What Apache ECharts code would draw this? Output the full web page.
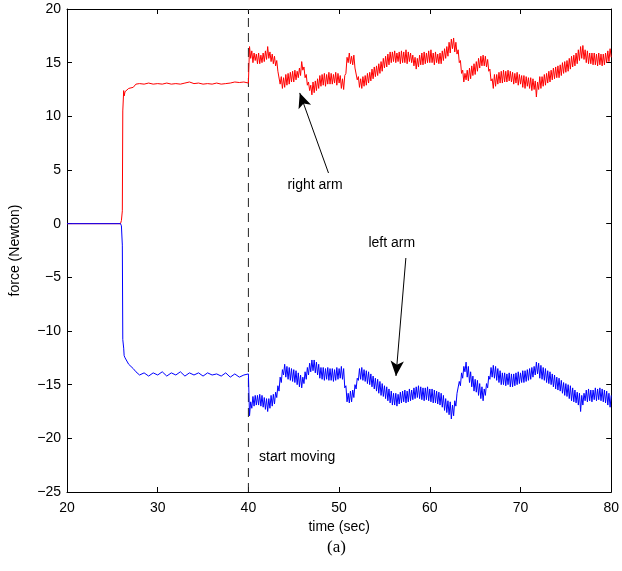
<!DOCTYPE html>
<html>
<head>
<meta charset="utf-8">
<script src="https://cdn.jsdelivr.net/npm/echarts@6/dist/echarts.min.js"></script>
<style>
  html, body { margin: 0; padding: 0; background: #ffffff; }
  #chart { width: 622px; height: 571px; }
</style>
</head>
<body>
<div id="chart"></div>
<script>
// Axis ticks
const xTicks = [20, 30, 40, 50, 60, 70, 80];
const yTicks = [-25, -20, -15, -10, -5, 0, 5, 10, 15, 20];

// Holding phase (before the arms start moving), sampled at irregular times
const preTime = [20, 25.9, 26.0, 26.1, 26.15, 26.25, 26.3, 26.4, 26.8, 27.3, 27.6,
  28.0, 28.5, 29.0, 29.5, 30.0, 30.5, 31.0, 31.5, 32.0, 32.5, 33.0, 33.5, 34.0, 34.5,
  35.0, 35.5, 36.0, 36.5, 37.0, 37.5, 38.0, 38.5, 39.0, 39.5, 40.0];
const rightPre = [0, 0, 0.3, 1.2, 10.5, 12.4, 11.9, 12.3, 12.6, 12.7, 13.0,
  13.05, 13.0, 13.1, 13.0, 13.05, 13.0, 13.1, 13.0, 13.05, 13.0, 13.1, 13.2, 13.05, 13.1,
  13.0, 13.05, 13.0, 13.1, 13.0, 13.05, 13.1, 13.2, 13.15, 13.2, 13.1];
const leftPre = [0, 0, -0.2, -2.0, -10.8, -11.6, -12.3, -12.5, -13.1, -13.5, -13.8,
  -14.1, -13.9, -14.2, -13.9, -14.1, -13.8, -14.2, -13.9, -14.1, -13.8, -14.2, -13.9, -14.1,
  -13.9, -14.2, -13.9, -14.1, -14.0, -14.2, -13.9, -14.3, -14.0, -14.3, -14.1, -14.0];

// Moving phase: one sample every 0.125 s from 40.125 s to 80 s (one row per second)
const moveStart = 40.125;
const moveStep = 0.125;
const rightMove = [
  16.5, 15.4, 16.1, 15.0, 15.9, 15.2, 15.8, 14.9,
  15.9, 14.9, 15.7, 15.0, 15.9, 15.1, 16.1, 15.3,
  16.5, 15.4, 16.0, 15.1, 15.8, 14.9, 15.6, 14.7,
  15.2, 14.2, 14.3, 13.0, 13.7, 12.6, 13.6, 12.7,
  13.9, 12.9, 14.0, 13.0, 14.1, 13.2, 14.2, 13.2,
  14.3, 13.4, 14.2, 13.6, 14.5, 13.8, 15.1, 14.3,
  14.6, 13.6, 13.9, 12.9, 13.2, 12.4, 12.9, 12.0,
  13.2, 12.2, 13.3, 12.4, 13.5, 12.6, 13.8, 12.8,
  13.9, 12.9, 14.0, 12.8, 13.9, 13.0, 14.1, 13.0,
  14.0, 13.0, 13.9, 13.1, 14.1, 12.9, 14.0, 13.1,
  13.8, 12.6, 13.5, 12.5, 13.8, 14.0, 15.5, 15.0,
  15.9, 14.9, 15.6, 14.8, 15.7, 14.5, 14.4, 13.4,
  13.7, 12.7, 13.5, 12.6, 13.7, 12.8, 13.8, 12.9,
  14.0, 13.1, 14.1, 13.3, 14.4, 13.5, 14.6, 13.7,
  14.7, 13.8, 14.9, 14.0, 15.1, 14.2, 15.4, 14.5,
  15.6, 14.6, 15.8, 14.8, 16.0, 15.0, 16.0, 15.1,
  16.1, 15.0, 15.9, 15.1, 16.0, 14.9, 16.1, 15.0,
  16.0, 15.0, 16.2, 14.9, 16.0, 15.1, 15.9, 15.0,
  15.7, 14.7, 15.5, 14.4, 15.4, 14.6, 15.7, 14.8,
  15.9, 14.8, 16.0, 14.9, 15.9, 15.0, 16.1, 15.0,
  16.2, 15.0, 15.9, 14.8, 16.0, 15.0, 15.8, 14.9,
  15.9, 14.9, 16.1, 15.2, 16.3, 15.4, 16.5, 15.6,
  16.9, 15.9, 17.2, 16.3, 17.3, 16.0, 16.9, 15.8,
  16.2, 15.0, 15.2, 14.0, 14.3, 13.2, 14.0, 13.4,
  14.3, 13.3, 14.5, 13.5, 14.7, 13.8, 14.9, 13.9,
  15.1, 14.2, 15.4, 14.5, 15.6, 14.7, 15.7, 14.7,
  15.6, 14.6, 15.3, 14.2, 14.4, 13.3, 13.5, 12.6,
  13.9, 12.8, 13.9, 13.0, 14.1, 13.1, 14.2, 13.1,
  14.3, 13.2, 14.2, 13.2, 14.3, 13.3, 14.2, 13.2,
  14.1, 13.0, 14.0, 13.1, 14.1, 12.9, 13.9, 13.0,
  13.8, 12.7, 13.8, 12.6, 13.7, 12.8, 13.6, 12.6,
  13.6, 12.4, 13.5, 12.5, 13.3, 11.8, 13.2, 12.5,
  13.7, 12.6, 13.7, 12.8, 13.9, 12.9, 14.0, 13.1,
  14.2, 13.2, 14.3, 13.4, 14.5, 13.5, 14.6, 13.6,
  14.7, 13.6, 14.8, 13.8, 15.0, 14.0, 15.1, 14.1,
  15.2, 14.2, 15.4, 14.4, 15.6, 14.6, 15.7, 14.7,
  15.9, 14.9, 16.2, 15.2, 16.5, 15.4, 16.6, 15.3,
  16.2, 15.0, 16.1, 14.9, 15.9, 14.9, 15.9, 14.8,
  15.9, 14.8, 15.8, 14.7, 15.9, 14.8, 15.8, 14.7,
  15.8, 14.8, 15.9, 15.0, 16.1, 15.1, 16.3, 15.5
];
const leftMove = [
  -17.9, -16.6, -17.2, -16.1, -17.0, -16.0, -16.9, -16.0,
  -16.9, -15.9, -17.0, -16.0, -17.1, -16.2, -17.3, -16.3,
  -17.5, -16.3, -17.2, -16.0, -17.0, -15.9, -16.8, -15.7,
  -16.2, -15.1, -15.6, -14.3, -14.8, -13.6, -14.1, -13.1,
  -14.3, -13.3, -14.5, -13.4, -14.6, -13.5, -14.7, -13.6,
  -14.8, -13.7, -15.0, -13.9, -15.2, -14.1, -15.3, -14.3,
  -14.9, -13.8, -14.5, -13.4, -14.1, -13.0, -13.8, -12.7,
  -13.7, -12.7, -13.9, -12.9, -14.1, -13.1, -14.4, -13.4,
  -14.5, -13.4, -14.6, -13.5, -14.5, -13.4, -14.6, -13.5,
  -14.6, -13.5, -14.7, -13.6, -14.6, -13.4, -14.5, -13.5,
  -14.4, -13.3, -14.5, -13.5, -15.3, -15.1, -16.6, -15.8,
  -16.7, -15.6, -16.6, -15.5, -16.2, -15.0, -15.4, -14.4,
  -14.6, -13.5, -14.5, -13.4, -14.6, -13.6, -14.7, -13.7,
  -14.9, -13.8, -15.0, -14.0, -15.2, -14.2, -15.4, -14.4,
  -15.6, -14.5, -15.8, -14.7, -16.0, -14.9, -16.1, -15.1,
  -16.3, -15.2, -16.5, -15.4, -16.7, -15.6, -16.9, -15.8,
  -16.9, -15.8, -17.0, -15.9, -16.8, -15.7, -16.7, -15.6,
  -16.6, -15.5, -16.7, -15.6, -16.6, -15.4, -16.5, -15.5,
  -16.4, -15.3, -16.3, -15.2, -16.2, -15.1, -16.3, -15.2,
  -16.4, -15.3, -16.5, -15.3, -16.4, -15.2, -16.5, -15.4,
  -16.6, -15.4, -16.7, -15.5, -16.7, -15.6, -16.8, -15.7,
  -16.9, -15.8, -17.1, -16.0, -17.4, -16.3, -17.6, -16.5,
  -17.8, -16.6, -18.2, -16.9, -17.9, -16.5, -17.0, -15.8,
  -15.9, -14.7, -15.1, -13.9, -14.4, -13.3, -13.8, -12.9,
  -14.3, -13.3, -14.8, -13.8, -15.2, -14.2, -15.6, -14.5,
  -15.7, -14.6, -16.0, -14.9, -16.3, -15.2, -16.5, -15.4,
  -16.0, -14.9, -15.3, -14.2, -14.5, -13.4, -14.3, -13.2,
  -14.4, -13.3, -14.6, -13.5, -14.8, -13.7, -15.0, -13.9,
  -15.0, -13.9, -15.1, -14.0, -15.0, -13.9, -15.2, -14.0,
  -15.2, -14.0, -15.1, -13.9, -15.0, -13.8, -14.9, -13.9,
  -14.8, -13.7, -14.8, -13.7, -14.7, -13.6, -14.6, -13.5,
  -14.5, -13.4, -14.3, -13.3, -14.1, -12.9, -14.0, -13.0,
  -14.4, -13.2, -14.5, -13.4, -14.6, -13.5, -14.8, -13.7,
  -14.9, -13.8, -15.0, -14.0, -15.2, -14.1, -15.4, -14.3,
  -15.5, -14.4, -15.6, -14.6, -15.8, -14.8, -16.0, -14.9,
  -16.1, -15.0, -16.3, -15.1, -16.5, -15.3, -16.6, -15.5,
  -16.7, -15.7, -16.9, -15.8, -17.5, -16.0, -16.9, -15.8,
  -16.5, -15.5, -16.6, -15.4, -16.5, -15.5, -16.6, -15.5,
  -16.4, -15.3, -16.5, -15.4, -16.4, -15.3, -16.5, -15.4,
  -16.6, -15.5, -16.7, -15.6, -16.9, -15.8, -17.1, -16.0
];

// Moment the arms start moving
const startTime = 40;

function buildSeries(pre, move) {
  const pts = preTime.map((t, i) => [t, pre[i]]);
  move.forEach((v, i) => pts.push([moveStart + i * moveStep, v]));
  return pts;
}

const FONT = '"Liberation Sans", Arial, Helvetica, sans-serif';
const minusFmt = v => String(v).replace('-', '\u2212');

const baseAxis = {
  type: 'value',
  axisLine: { show: true, onZero: false, lineStyle: { color: '#000', width: 1 } },
  axisTick: { show: true, inside: true, length: 5, lineStyle: { color: '#000', width: 1 } },
  splitLine: { show: false },
  minorTick: { show: false }
};

const chart = echarts.init(document.getElementById('chart'), null, { renderer: 'canvas' });

chart.setOption({
  animation: false,
  backgroundColor: '#fff',
  textStyle: { fontFamily: FONT },
  grid: { left: 64, right: 10, top: 9, bottom: 79, containLabel: false },
  xAxis: [
    Object.assign({}, baseAxis, {
      min: xTicks[0], max: xTicks[xTicks.length - 1], interval: 10,
      position: 'bottom',
      axisLabel: { color: '#000', fontSize: 14, fontFamily: FONT, margin: 9 },
      name: 'time (sec)', nameLocation: 'middle', nameGap: 27,
      nameTextStyle: { color: '#000', fontSize: 14, fontFamily: FONT }
    }),
    Object.assign({}, baseAxis, {
      min: xTicks[0], max: xTicks[xTicks.length - 1], interval: 10,
      position: 'top', axisLabel: { show: false }
    })
  ],
  yAxis: [
    Object.assign({}, baseAxis, {
      min: yTicks[0], max: yTicks[yTicks.length - 1], interval: 5,
      position: 'left',
      axisLabel: { color: '#000', fontSize: 14, fontFamily: FONT, margin: 6, formatter: minusFmt },
      name: 'force (Newton)', nameLocation: 'middle', nameGap: 45,
      nameTextStyle: { color: '#000', fontSize: 14, fontFamily: FONT }
    }),
    Object.assign({}, baseAxis, {
      min: yTicks[0], max: yTicks[yTicks.length - 1], interval: 5,
      position: 'right', axisLabel: { show: false }
    })
  ],
  series: [
    {
      name: 'start moving',
      type: 'line',
      data: [[startTime, yTicks[0]], [startTime, yTicks[yTicks.length - 1]]],
      showSymbol: false,
      silent: true,
      lineStyle: { color: '#222', width: 1, type: [9, 6] },
      z: 1
    },
    {
      name: 'right arm',
      type: 'line',
      data: buildSeries(rightPre, rightMove),
      showSymbol: false,
      silent: true,
      lineStyle: { color: '#ff0000', width: 1 },
      z: 3
    },
    {
      name: 'left arm',
      type: 'line',
      data: buildSeries(leftPre, leftMove),
      showSymbol: false,
      silent: true,
      lineStyle: { color: '#0000ff', width: 1 },
      z: 3
    },
    {
      // annotation arrows and texts
      type: 'scatter',
      silent: true,
      symbolSize: 0,
      itemStyle: { opacity: 1 },
      data: [
        { value: [47.35, 3.6], label: { formatter: 'right arm' } },
        { value: [55.8, -1.8], label: { formatter: 'left arm' } },
        { value: [41.17, -21.74], label: { formatter: 'start moving', position: 'right', distance: 0 } }
      ],
      label: {
        show: true, position: 'inside', color: '#000', opacity: 1,
        textBorderWidth: 0, textShadowBlur: 0,
        fontSize: 14, fontFamily: FONT
      },
      markLine: {
        silent: true,
        symbol: ['none', 'arrow'],
        symbolSize: [10, 15],
        label: { show: false },
        lineStyle: { color: '#000', width: 1, type: 'solid', opacity: 1 },
        data: [
          [{ coord: [48.83, 4.72] }, { coord: [45.66, 12.18] }],
          [{ coord: [57.36, -3.2] }, { coord: [56.27, -14.19] }]
        ]
      },
      z: 5
    }
  ],
  graphic: [
    {
      type: 'text',
      left: 327, top: 539,
      style: {
        text: '(a)',
        fill: '#000',
        font: '17px "Liberation Serif", "Times New Roman", serif'
      }
    }
  ]
});
</script>
</body>
</html>
